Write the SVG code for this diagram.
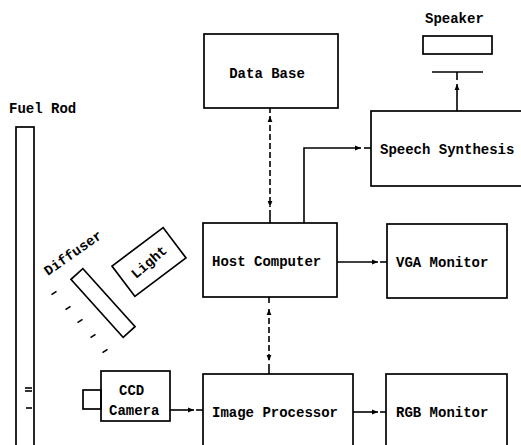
<svg xmlns="http://www.w3.org/2000/svg" width="521" height="445" viewBox="0 0 521 445">
  <defs>
    <style>
      .box { fill: none; stroke: #000; stroke-width: 1.7; }
      .ln { fill: none; stroke: #000; stroke-width: 1.6; }
      .dash { fill: none; stroke: #000; stroke-width: 1.6; stroke-dasharray: 6 3; }
      .lbl { font-family: "Liberation Mono", "DejaVu Sans Mono", monospace; font-weight: bold; font-size: 14px; fill: #000; }
    </style>
    <marker id="arrow" viewBox="0 0 10 10" refX="10" refY="5" markerWidth="6" markerHeight="6" markerUnits="userSpaceOnUse" orient="auto-start-reverse">
      <path d="M0,1 L10,5 L0,9 Z" fill="#000"/>
    </marker>
  </defs>

  <rect width="521" height="445" fill="#fff"/>

  <!-- fuel rod with its marks -->
  <g id="fuel-rod">
    <text class="lbl" x="9" y="113">Fuel Rod</text>
    <rect class="box" x="16" y="127" width="18" height="330"/>
    <line class="ln" x1="25" y1="388" x2="32" y2="388"/>
    <line class="ln" x1="25" y1="391" x2="32" y2="391"/>
    <line class="ln" x1="26" y1="408" x2="32" y2="408"/>
  </g>

  <!-- diffuser plate and scattered light -->
  <g id="diffuser">
    <text class="lbl" transform="translate(73,253) rotate(-35)" text-anchor="middle" y="4.5">Diffuser</text>
    <rect class="box" x="-39" y="-8" width="78" height="16" transform="translate(103,303) rotate(48)"/>
    <g class="ln">
      <line x1="51.5" y1="294.7" x2="56.5" y2="291.3"/>
      <line x1="65.5" y1="309.7" x2="70.5" y2="306.3"/>
      <line x1="77.5" y1="322.7" x2="82.5" y2="319.3"/>
      <line x1="90.5" y1="337.7" x2="95.5" y2="334.3"/>
      <line x1="102.5" y1="352.7" x2="107.5" y2="349.3"/>
    </g>
  </g>

  <g id="light">
    <g transform="translate(149,262) rotate(-37)">
      <rect class="box" x="-32" y="-19" width="64" height="38"/>
      <text class="lbl" text-anchor="middle" y="4.5" transform="rotate(-4)">Light</text>
    </g>
  </g>

  <g id="ccd-camera">
    <rect class="box" x="83" y="390" width="18" height="19"/>
    <rect class="box" x="101" y="371" width="69" height="50"/>
    <text class="lbl" x="119" y="395">CCD</text>
    <text class="lbl" x="109" y="415">Camera</text>
  </g>

  <g id="data-base">
    <rect class="box" x="204" y="34" width="134" height="74"/>
    <text class="lbl" x="267" y="78" text-anchor="middle">Data Base</text>
  </g>

  <g id="host-computer">
    <rect class="box" x="203" y="223" width="134" height="74"/>
    <text class="lbl" x="212" y="266">Host Computer</text>
  </g>

  <g id="image-processor">
    <rect class="box" x="203" y="374" width="150" height="80"/>
    <text class="lbl" x="212" y="417">Image Processor</text>
  </g>

  <g id="speech-synthesis">
    <rect class="box" x="371" y="111" width="160" height="75"/>
    <text class="lbl" x="380" y="154">Speech Synthesis</text>
  </g>

  <g id="speaker">
    <text class="lbl" x="425" y="23">Speaker</text>
    <rect class="box" x="423" y="36" width="69" height="18"/>
    <line class="ln" x1="432" y1="72" x2="483" y2="72"/>
  </g>

  <g id="vga-monitor">
    <rect class="box" x="387" y="224" width="120" height="74"/>
    <text class="lbl" x="396" y="267">VGA Monitor</text>
  </g>

  <g id="rgb-monitor">
    <rect class="box" x="386" y="374" width="121" height="80"/>
    <text class="lbl" x="396" y="417">RGB Monitor</text>
  </g>

  <!-- connectors -->
  <g id="connectors">
    <!-- data base <-> host computer -->
    <line class="ln" x1="270" y1="108" x2="270" y2="113"/>
    <line class="dash" x1="270" y1="116" x2="270" y2="207" marker-start="url(#arrow)" marker-end="url(#arrow)"/>
    <line class="ln" x1="270" y1="210" x2="270" y2="223"/>

    <!-- host computer <-> image processor -->
    <line class="ln" x1="269" y1="297" x2="269" y2="303"/>
    <line class="dash" x1="269" y1="309" x2="269" y2="361" marker-start="url(#arrow)" marker-end="url(#arrow)"/>
    <line class="ln" x1="269" y1="364" x2="269" y2="374"/>

    <!-- host computer -> speech synthesis -->
    <path class="ln" d="M304,223 V148 H361" marker-end="url(#arrow)"/>
    <line class="ln" x1="364" y1="148" x2="371" y2="148"/>

    <!-- speech synthesis -> speaker -->
    <line class="ln" x1="457" y1="111" x2="457" y2="84" marker-end="url(#arrow)"/>
    <line class="ln" x1="457" y1="72" x2="457" y2="80"/>

    <!-- host computer -> VGA monitor -->
    <line class="ln" x1="337" y1="262" x2="378" y2="262" marker-end="url(#arrow)"/>
    <line class="ln" x1="380" y1="262" x2="387" y2="262"/>

    <!-- camera -> image processor -->
    <line class="ln" x1="170" y1="410" x2="194" y2="410" marker-end="url(#arrow)"/>
    <line class="ln" x1="196" y1="410" x2="203" y2="410"/>

    <!-- image processor -> RGB monitor -->
    <line class="ln" x1="353" y1="412" x2="378" y2="412" marker-end="url(#arrow)"/>
    <line class="ln" x1="380" y1="412" x2="386" y2="412"/>
  </g>
</svg>
